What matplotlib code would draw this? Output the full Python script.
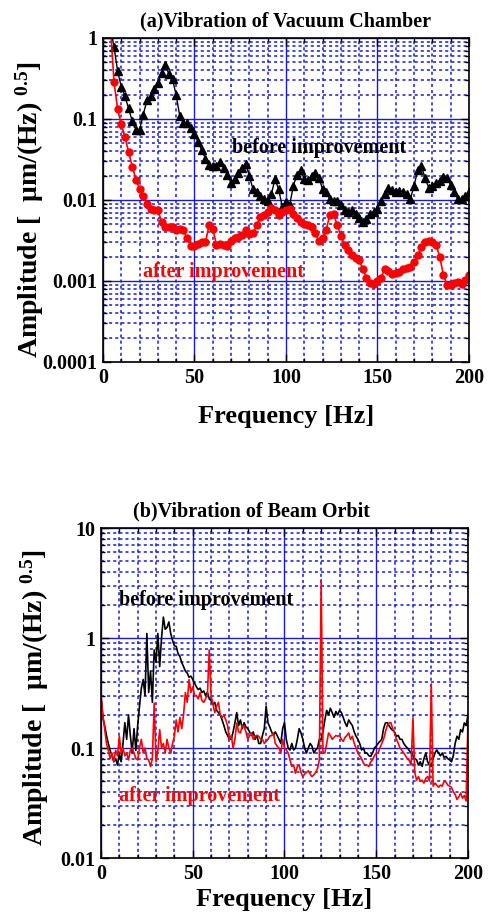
import numpy as np
import matplotlib
matplotlib.use('Agg')
import matplotlib.pyplot as plt
from matplotlib.ticker import FixedLocator, LogLocator, MultipleLocator, NullFormatter

plt.rcParams['font.family'] = ['Liberation Serif', 'DejaVu Serif']
plt.rcParams['font.weight'] = 'bold'
plt.rcParams['mathtext.default'] = 'regular'

# (a) vacuum chamber, points every 2 Hz
freq_a = np.arange(4, 201, 2)
chamber_before = [
    1.4, 0.78, 0.39, 0.25, 0.19, 0.135, 0.094, 0.074, 0.074, 0.113,
    0.17, 0.19, 0.235, 0.28, 0.37, 0.47, 0.36, 0.31, 0.196, 0.108,
    0.0895, 0.09, 0.078, 0.065, 0.0515, 0.041, 0.0325, 0.027, 0.026, 0.026,
    0.0296, 0.0247, 0.0205, 0.0163, 0.018, 0.0215, 0.0247, 0.028, 0.0196, 0.0136,
    0.0124, 0.0113, 0.0103, 0.0098, 0.0118, 0.018, 0.0136, 0.0082, 0.0094, 0.0086,
    0.0149, 0.0205, 0.0235, 0.018, 0.0175, 0.0196, 0.0215, 0.0187, 0.0136, 0.0124,
    0.0103, 0.0096, 0.0098, 0.0086, 0.0075, 0.0071, 0.0075, 0.0068, 0.006, 0.0054,
    0.0059, 0.0068, 0.0071, 0.0078, 0.0098, 0.0118, 0.0142, 0.0133, 0.0124, 0.013,
    0.0124, 0.0118, 0.0103, 0.0149, 0.0235, 0.026, 0.0187, 0.0142, 0.0149, 0.0163,
    0.017, 0.0192, 0.0187, 0.0155, 0.0124, 0.0103, 0.0103, 0.0113, 0.0124,
]
chamber_after = [
    1.5, 0.29, 0.132, 0.0855, 0.06, 0.039, 0.0258, 0.0179, 0.0138, 0.0111,
    0.009, 0.0078, 0.0075, 0.0075, 0.0054, 0.0047, 0.0047, 0.0046, 0.0043, 0.0044,
    0.0042, 0.0034, 0.0027, 0.0027, 0.0029, 0.003, 0.003, 0.0049, 0.0044, 0.0028,
    0.0029, 0.0028, 0.0027, 0.0031, 0.0034, 0.0035, 0.0037, 0.0042, 0.0038, 0.0039,
    0.0049, 0.0062, 0.0066, 0.0071, 0.0079, 0.0075, 0.0066, 0.0071, 0.0076, 0.0078,
    0.0068, 0.006, 0.0054, 0.005, 0.0049, 0.0047, 0.0039, 0.0031, 0.0034, 0.0043,
    0.0066, 0.0068, 0.0049, 0.0036, 0.0028, 0.0024, 0.0021, 0.0019, 0.0018, 0.0014,
    0.0011, 0.00094, 0.00091, 0.00099, 0.0011, 0.0014, 0.00131, 0.00121, 0.00126, 0.0013,
    0.0014, 0.00144, 0.0015, 0.0017, 0.0021, 0.0026, 0.003, 0.0031, 0.003, 0.0028,
    0.002, 0.0012, 0.0009, 0.0009, 0.00094, 0.00096, 0.00092, 0.00103, 0.0012,
]

# (b) beam orbit, every 1 Hz
freq_b = np.arange(0, 201, 1)
orbit_before = [
    0.30, 0.19, 0.16, 0.13, 0.11, 0.095, 0.085, 0.075, 0.08, 0.07,
    0.09, 0.075, 0.11, 0.17, 0.12, 0.2, 0.13, 0.09, 0.15, 0.095,
    0.16, 0.24, 0.35, 0.42, 0.3, 1.1, 0.32, 0.5, 0.26, 0.78,
    0.6, 1.1, 0.55, 1.0, 1.55, 1.2, 1.25, 1.4, 1.1, 0.95,
    0.85, 0.84, 0.72, 0.68, 0.6, 0.55, 0.5, 0.48, 0.44, 0.45,
    0.42, 0.39, 0.36, 0.34, 0.35, 0.32, 0.33, 0.3, 0.32, 0.28,
    0.27, 0.25, 0.26, 0.22, 0.21, 0.2, 0.18, 0.16, 0.14, 0.13,
    0.12, 0.12, 0.14, 0.17, 0.21, 0.16, 0.18, 0.15, 0.17, 0.155,
    0.15, 0.14, 0.13, 0.14, 0.12, 0.13, 0.11, 0.11, 0.13, 0.15,
    0.24, 0.17, 0.155, 0.14, 0.13, 0.14, 0.13, 0.12, 0.11, 0.15,
    0.17, 0.12, 0.1, 0.096, 0.11, 0.096, 0.1, 0.12, 0.15, 0.137,
    0.12, 0.1, 0.09, 0.1, 0.11, 0.104, 0.09, 0.096, 0.1, 0.12,
    0.12, 0.14, 0.18, 0.22, 0.2, 0.23, 0.21, 0.19, 0.215, 0.2,
    0.22, 0.21, 0.19, 0.17, 0.157, 0.18, 0.169, 0.16, 0.14, 0.128,
    0.12, 0.11, 0.096, 0.1, 0.09, 0.09, 0.085, 0.084, 0.09, 0.1,
    0.104, 0.11, 0.115, 0.12, 0.15, 0.169, 0.17, 0.16, 0.15, 0.145,
    0.14, 0.128, 0.13, 0.12, 0.12, 0.11, 0.104, 0.1, 0.095, 0.09,
    0.085, 0.08, 0.078, 0.07, 0.075, 0.068, 0.08, 0.09, 0.075, 0.07,
    0.068, 0.08, 0.09, 0.096, 0.09, 0.085, 0.09, 0.082, 0.084, 0.08,
    0.078, 0.075, 0.085, 0.11, 0.128, 0.12, 0.147, 0.14, 0.169, 0.16,
    0.2,
]
orbit_after = [
    0.30, 0.2, 0.15, 0.11, 0.095, 0.08, 0.09, 0.075, 0.095, 0.085,
    0.128, 0.09, 0.1, 0.085, 0.09, 0.078, 0.095, 0.1, 0.09, 0.08,
    0.078, 0.1, 0.12, 0.09, 0.1, 0.08, 0.078, 0.068, 0.08, 0.256,
    0.075, 0.095, 0.147, 0.1, 0.11, 0.09, 0.12, 0.1, 0.09, 0.11,
    0.128, 0.18, 0.14, 0.19, 0.15, 0.2, 0.32, 0.26, 0.42, 0.32,
    0.36, 0.3, 0.3, 0.28, 0.32, 0.27, 0.26, 0.28, 0.3, 0.78,
    0.3, 0.25, 0.21, 0.24, 0.26, 0.2, 0.19, 0.2, 0.18, 0.16,
    0.12, 0.13, 0.1, 0.12, 0.169, 0.14, 0.137, 0.16, 0.157, 0.14,
    0.12, 0.13, 0.137, 0.12, 0.128, 0.13, 0.128, 0.12, 0.12, 0.11,
    0.115, 0.12, 0.128, 0.13, 0.137, 0.11, 0.104, 0.1, 0.09, 0.12,
    0.1, 0.096, 0.09, 0.078, 0.068, 0.07, 0.059, 0.068, 0.07, 0.06,
    0.055, 0.058, 0.06, 0.062, 0.058, 0.055, 0.057, 0.06, 0.065, 0.078,
    3.4, 0.09, 0.09, 0.11, 0.137, 0.13, 0.12, 0.125, 0.13, 0.128,
    0.13, 0.12, 0.115, 0.125, 0.13, 0.137, 0.12, 0.128, 0.11, 0.1,
    0.09, 0.085, 0.08, 0.073, 0.07, 0.07, 0.068, 0.075, 0.078, 0.085,
    0.09, 0.09, 0.1, 0.11, 0.12, 0.14, 0.16, 0.169, 0.17, 0.15,
    0.137, 0.12, 0.11, 0.1, 0.095, 0.09, 0.085, 0.08, 0.077, 0.07,
    0.187, 0.06, 0.051, 0.055, 0.05, 0.051, 0.048, 0.053, 0.055, 0.05,
    0.38, 0.045, 0.048, 0.046, 0.044, 0.046, 0.045, 0.05, 0.049, 0.046,
    0.045, 0.044, 0.04, 0.038, 0.034, 0.036, 0.039, 0.035, 0.037, 0.033,
    0.18,
]

x_ticks = [0, 50, 100, 150, 200]
x_labels = ['0', '50', '100', '150', '200']
y_ticks_a = [1e-4, 1e-3, 1e-2, 1e-1, 1]
y_labels_a = ['0.0001', '0.001', '0.01', '0.1', '1']
y_ticks_b = [1e-2, 1e-1, 1, 10]
y_labels_b = ['0.01', '0.1', '1', '10']

GRID = '#1a1ad6'
YLABEL = 'Amplitude [  \u03bcm/(Hz) $^{0.5}$]'

fig = plt.figure(figsize=(4.89, 9.22), dpi=100)
ax1 = fig.add_axes([0.2106, 0.6074, 0.7484, 0.3514])
ax2 = fig.add_axes([0.2065, 0.0694, 0.7505, 0.3579])


def style(ax, yticks, ylabels, xlab_y, ylab_xy):
    ax.set_yscale('log')
    ax.set_xlim(0, 200)
    ax.set_ylim(yticks[0], yticks[-1])
    ax.xaxis.set_major_locator(FixedLocator(x_ticks))
    ax.set_xticklabels(x_labels)
    ax.xaxis.set_minor_locator(MultipleLocator(10))
    ax.yaxis.set_major_locator(FixedLocator(yticks))
    ax.set_yticklabels(ylabels)
    ax.yaxis.set_minor_locator(LogLocator(base=10, subs=np.arange(2, 10)))
    ax.yaxis.set_minor_formatter(NullFormatter())
    ax.grid(which='major', color=GRID, lw=1.0, ls='-')
    ax.grid(which='minor', color=GRID, lw=1.1, ls=(0, (2, 2)))
    ax.set_axisbelow(True)
    ax.tick_params(which='both', direction='in', top=True, right=True,
                   labelsize=14.5, width=1)
    ax.tick_params(which='major', length=6, pad=4)
    ax.tick_params(which='minor', length=3)
    for t in ax.get_xticklabels() + ax.get_yticklabels():
        t.set_fontweight('bold')
    for s in ax.spines.values():
        s.set_linewidth(1.2)
    ax.set_xlabel('Frequency [Hz]', fontsize=19, fontweight='bold', va='center')
    ax.xaxis.set_label_coords(0.5, xlab_y)
    ax.set_ylabel(YLABEL, fontsize=20, fontweight='bold', va='center')
    ax.yaxis.set_label_coords(*ylab_xy)


style(ax1, y_ticks_a, y_labels_a, -0.167, (-0.2, 0.47))
ax1.plot(freq_a, chamber_before, color='black', lw=1, marker='^', ms=6)
ax1.plot(freq_a, chamber_after, color='red', lw=1.2, marker='o', ms=5)
ax1.text(0.5, 1.02, '(a)Vibration of Vacuum Chamber', transform=ax1.transAxes,
         ha='center', va='bottom', fontsize=14.5, fontweight='bold')
ax1.text(70.5, 0.044, 'before improvement', color='black', fontsize=14.5,
         fontweight='bold', ha='left', va='center')
ax1.text(21.7, 0.0013, 'after improvement', color='red', fontsize=14.5,
         fontweight='bold', ha='left', va='center')

style(ax2, y_ticks_b, y_labels_b, -0.127, (-0.18, 0.485))
ax2.plot(freq_b, orbit_before, color='black', lw=1.2)
ax2.plot(freq_b, orbit_after, color='red', lw=1.2)
ax2.text(0.411, 1.02, '(b)Vibration of Beam Orbit', transform=ax2.transAxes,
         ha='center', va='bottom', fontsize=14.5, fontweight='bold')
ax2.text(9.8, 2.2, 'before improvement', color='black', fontsize=14.5,
         fontweight='bold', ha='left', va='center')
ax2.text(9.8, 0.037, 'after improvement', color='red', fontsize=14.5,
         fontweight='bold', ha='left', va='center')

fig.savefig('out.png', dpi=100)
